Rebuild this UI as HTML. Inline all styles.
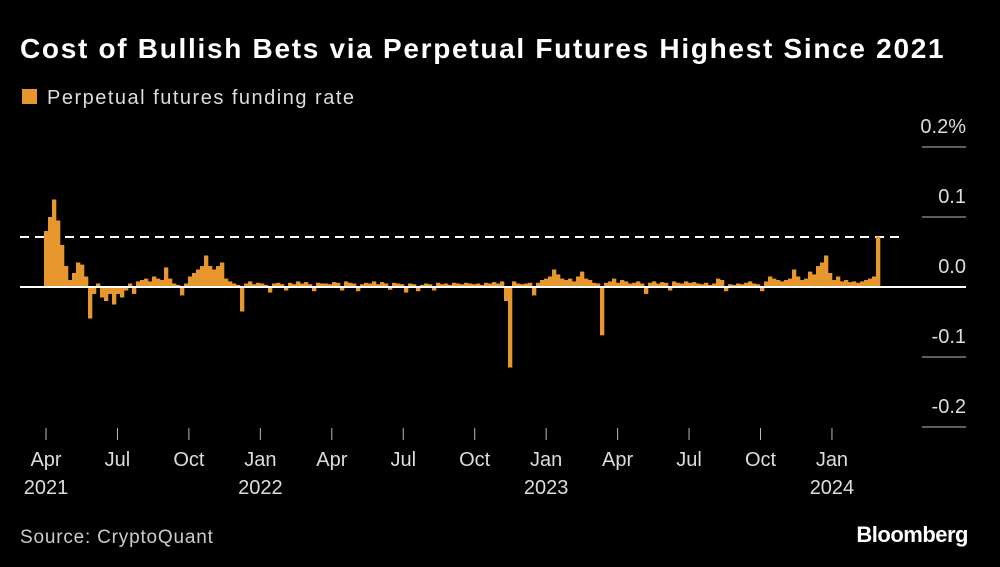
<!DOCTYPE html>
<html><head><meta charset="utf-8"><style>
body{margin:0;background:#000;width:1000px;height:567px;overflow:hidden;font-family:"Liberation Sans",sans-serif;}
svg{position:absolute;left:0;top:0}
</style></head><body>
<svg id="c" width="1000" height="567">
<text x="20" y="58" fill="#fff" font-size="28" font-weight="bold" letter-spacing="1.7">Cost of Bullish Bets via Perpetual Futures Highest Since 2021</text>
<rect x="22" y="89" width="15" height="15" fill="#e8972f"/>
<text x="47" y="104" fill="#ddd" font-size="20" letter-spacing="1.5">Perpetual futures funding rate</text>
<line x1="20" y1="237" x2="900" y2="237" stroke="#fff" stroke-width="2" stroke-dasharray="9,6"/>
<g id="bars"></g>
<g id="yaxis"></g>
<g id="xaxis"></g>
<text x="20" y="543" fill="#ccc" font-size="19" letter-spacing="0.8">Source: CryptoQuant</text>
<text x="968" y="542" fill="#fff" font-size="22" font-weight="bold" text-anchor="end" letter-spacing="-0.5">Bloomberg</text>
</svg>
<script>
const values=[0.08,0.1,0.125,0.095,0.06,0.03,0.01,0.02,0.035,0.032,
0.015,-0.045,-0.01,0.005,-0.015,-0.02,-0.01,-0.025,-0.01,-0.015,
-0.005,0.005,-0.01,0.008,0.01,0.012,0.008,0.015,0.012,0.01,
0.028,0.012,0.005,0.003,-0.012,0.005,0.015,0.02,0.025,0.03,
0.045,0.03,0.025,0.03,0.035,0.012,0.008,0.005,0.003,-0.035,
0.005,0.008,0.004,0.006,0.005,0.003,-0.008,0.005,0.006,0.004,
-0.005,0.006,0.004,0.008,0.005,0.007,0.004,-0.006,0.006,0.005,
0.005,0.004,0.007,0.006,-0.005,0.008,0.006,0.005,-0.006,0.004,
0.006,0.005,0.008,0.004,0.007,0.005,-0.004,0.006,0.005,0.004,
-0.008,0.005,0.004,-0.006,0.003,0.005,0.004,-0.005,0.006,0.004,
0.005,0.003,0.006,0.005,0.004,0.006,0.005,0.004,0.005,0.003,
0.006,0.005,0.007,0.005,0.008,-0.02,-0.115,0.008,0.005,0.004,
0.005,0.006,-0.012,0.006,0.01,0.012,0.015,0.025,0.018,0.012,
0.01,0.012,0.008,0.015,0.022,0.012,0.01,0.006,0.005,-0.069,
0.006,0.008,0.012,0.006,0.01,0.008,0.005,0.006,0.008,0.005,
-0.01,0.006,0.008,0.005,0.007,0.006,-0.005,0.008,0.006,0.005,
0.008,0.006,0.007,0.005,0.004,0.006,0.003,0.005,0.012,0.01,
-0.006,0.004,0.003,0.005,0.004,0.006,0.008,0.005,0.004,-0.006,
0.008,0.015,0.012,0.01,0.008,0.01,0.012,0.025,0.015,0.01,
0.012,0.022,0.018,0.03,0.035,0.045,0.02,0.01,0.015,0.008,
0.01,0.007,0.008,0.006,0.008,0.01,0.012,0.015,0.072];
const yTicks=[0.2,0.1,0.0,-0.1,-0.2];
const yTickLabels=["0.2%","0.1","0.0","-0.1","-0.2"];
const xTickLabels=["Apr","Jul","Oct","Jan","Apr","Jul","Oct","Jan","Apr","Jul","Oct","Jan"];
const xTickYears=["2021","","","2022","","","","2023","","","","2024"];
const NS="http://www.w3.org/2000/svg";
const y=v=>287-v*700;
const x0=44,x1=880;
const x=i=>x0+i*(x1-x0)/values.length;
const bw=(x1-x0)/values.length;
const bars=document.getElementById('bars');
values.forEach((v,i)=>{const r=document.createElementNS(NS,'rect');
r.setAttribute('x',x(i));r.setAttribute('width',bw+0.3);
r.setAttribute('y',Math.min(y(v),287));r.setAttribute('height',Math.max(Math.abs(y(v)-287),0.8));
r.setAttribute('fill','#e8972f');


bars.appendChild(r);});
const ya=document.getElementById('yaxis');
yTicks.forEach((t,i)=>{const l=document.createElementNS(NS,'line');
l.setAttribute('x1',t===0?20:922);l.setAttribute('x2',966);l.setAttribute('y1',y(t));l.setAttribute('y2',y(t));
l.setAttribute('stroke',t===0?'#fff':'#bbb');l.setAttribute('stroke-width',t===0?2:1);


ya.appendChild(l);
const tx=document.createElementNS(NS,'text');tx.setAttribute('x',966);tx.setAttribute('y',y(t)-14);
tx.setAttribute('text-anchor','end');tx.setAttribute('fill','#ddd');tx.setAttribute('font-size','20');tx.textContent=yTickLabels[i];


ya.appendChild(tx);});
const xa=document.getElementById('xaxis');
xTickLabels.forEach((lab,i)=>{const px=46+i*71.45;
const l=document.createElementNS(NS,'line');l.setAttribute('x1',px);l.setAttribute('x2',px);l.setAttribute('y1',428);l.setAttribute('y2',440);l.setAttribute('stroke','#bbb');


xa.appendChild(l);
const t=document.createElementNS(NS,'text');t.setAttribute('x',px);t.setAttribute('y',466);t.setAttribute('text-anchor','middle');t.setAttribute('fill','#ddd');t.setAttribute('font-size','20');t.textContent=lab;


xa.appendChild(t);
if(xTickYears[i]){const t2=document.createElementNS(NS,'text');t2.setAttribute('x',px);t2.setAttribute('y',494);t2.setAttribute('text-anchor','middle');t2.setAttribute('fill','#ddd');t2.setAttribute('font-size','20');t2.textContent=xTickYears[i];


xa.appendChild(t2);}
});
</script>
</body></html>
